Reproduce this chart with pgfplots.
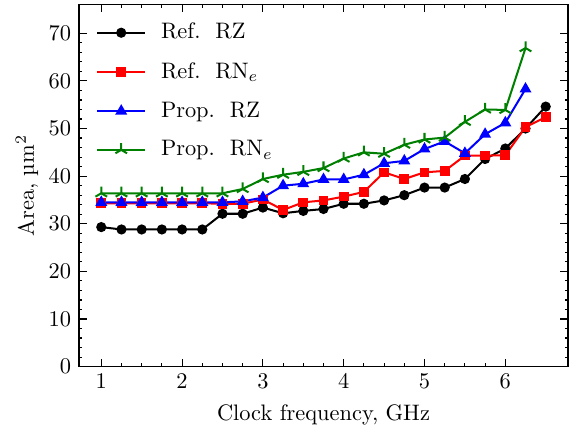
\documentclass[border=0pt]{standalone}
\usepackage{pgfplots}
\pgfplotsset{compat=1.18}
\usetikzlibrary{plotmarks}
\definecolor{mplgreen}{HTML}{008000}

\begin{document}
\begin{tikzpicture}
\begin{axis}[
  scale only axis,
  width=218.3pt, height=161.6pt,
  xmin=0.725, xmax=6.775, ymin=0, ymax=76,
  xtick={1,2,3,4,5,6}, ytick={0,10,...,70},
  minor x tick num=3, minor y tick num=4,
  tick align=inside, tick pos=both,
  major tick length=3.4pt, minor tick length=1.5pt,
  every tick/.style={black, line width=0.5pt},
  axis line style={line width=0.6pt},
  xlabel={Clock frequency, GHz},
  ylabel={Area, µm$^2$},
  ylabel shift=-2.2pt,
  legend cell align=left,
  legend style={at={(0.02,0.975)}, anchor=north west, draw=none, fill=none,
    row sep=5pt, column sep=4.5pt},
  legend image code/.code={
    \draw[mark repeat=2,mark phase=2] plot coordinates {(0cm,0cm) (0.38cm,0cm) (0.76cm,0cm)};},
  every axis plot/.append style={line width=0.9pt, mark size=1.8pt},
]
\addplot[black, mark=*] coordinates {
  (1,29.3) (1.25,28.8) (1.5,28.8) (1.75,28.8) (2,28.8) (2.25,28.8) (2.5,32.1) (2.75,32.1)
  (3,33.4) (3.25,32.2) (3.5,32.7) (3.75,33.1) (4,34.2) (4.25,34.2) (4.5,34.9) (4.75,36.0)
  (5,37.6) (5.25,37.6) (5.5,39.4) (5.75,43.6) (6,45.8) (6.25,50.0) (6.5,54.6)};
\addlegendentry{Ref.\ \ RZ}
\addplot[red, mark=square*, mark size=1.7pt] coordinates {
  (1,34.3) (1.25,34.3) (1.5,34.3) (1.75,34.3) (2,34.3) (2.25,34.3) (2.5,34.2) (2.75,34.2)
  (3,35.1) (3.25,32.9) (3.5,34.5) (3.75,34.9) (4,35.7) (4.25,36.7) (4.5,40.8) (4.75,39.4)
  (5,40.8) (5.25,41.1) (5.5,44.3) (5.75,44.3) (6,44.4) (6.25,50.3) (6.5,52.4)};
\addlegendentry{Ref.\ \ RN$_e$}
\addplot[blue, mark=triangle*, mark size=2.2pt] coordinates {
  (1,34.5) (1.25,34.5) (1.5,34.5) (1.75,34.5) (2,34.5) (2.25,34.5) (2.5,34.5) (2.75,34.7)
  (3,35.5) (3.25,38.0) (3.5,38.4) (3.75,39.3) (4,39.3) (4.25,40.3) (4.5,42.7) (4.75,43.2)
  (5,45.7) (5.25,47.3) (5.5,44.8) (5.75,48.8) (6,51.2) (6.25,58.3)};
\addlegendentry{Prop.\ \ RZ}
\addplot[mplgreen, mark=Mercedes star, mark size=3pt] coordinates {
  (1,36.4) (1.25,36.4) (1.5,36.4) (1.75,36.4) (2,36.4) (2.25,36.4) (2.5,36.4) (2.75,37.3)
  (3,39.4) (3.25,40.3) (3.5,40.9) (3.75,41.7) (4,43.7) (4.25,45.0) (4.5,44.7) (4.75,46.6)
  (5,47.7) (5.25,48.1) (5.5,51.4) (5.75,54.0) (6,53.9) (6.25,66.9)};
\addlegendentry{Prop.\ \ RN$_e$}
\end{axis}
\path ([shift={(4.5pt,2.1pt)}]current axis.north east);
\path ([shift={(-35.3pt,-27.4pt)}]current axis.south west);
\end{tikzpicture}
\end{document}
